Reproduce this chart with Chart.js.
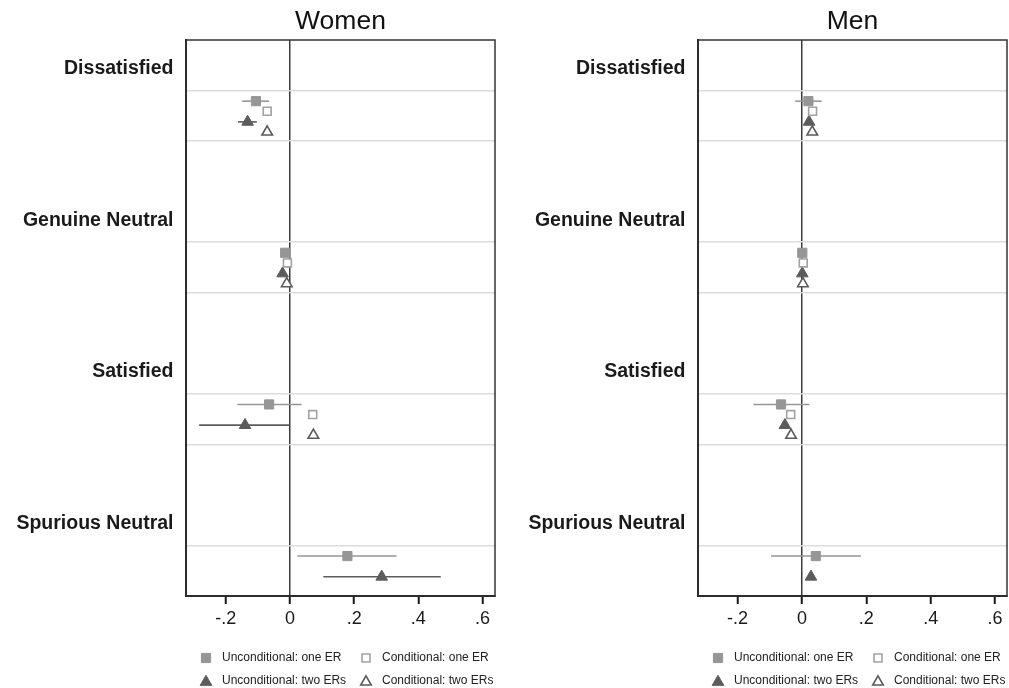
<!DOCTYPE html>
<html>
<head>
<meta charset="utf-8">
<title>Women / Men</title>
<script src="https://cdn.jsdelivr.net/npm/chart.js@4.4.1/dist/chart.umd.min.js"></script>
<style>
  body { margin: 0; background: #fff; overflow: hidden; }
  .panel { position: absolute; top: 0; line-height: 0; }
  .panel canvas { display: block; }
  #womenBox { left: 0; }
  #menBox { left: 505px; }
</style>
</head>
<body>
<div class="panel" id="womenBox"><canvas id="women" width="505" height="688"></canvas></div>
<div class="panel" id="menBox"><canvas id="men" width="504" height="688"></canvas></div>
<script>
// categories and legend entries
const categories = ['Dissatisfied', 'Genuine Neutral', 'Satisfied', 'Spurious Neutral'];
const seriesNames = ['Unconditional: one ER', 'Conditional: one ER', 'Unconditional: two ERs', 'Conditional: two ERs'];
const xTickValues = [-0.2, 0, 0.2, 0.4, 0.6];
const xTickLabels = ['-.2', '0', '.2', '.4', '.6'];

// Women: point estimates (one per category) and 95% CI where drawn
const womenUncondOne = [-0.106, -0.015, -0.065, 0.179];
const womenUncondOneLo = [-0.149, null, -0.164, 0.023];
const womenUncondOneHi = [-0.065, null, 0.036, 0.332];
const womenCondOne = [-0.071, -0.008, 0.071, null];
const womenUncondTwo = [-0.132, -0.023, -0.140, 0.286];
const womenUncondTwoLo = [-0.162, null, -0.283, 0.104];
const womenUncondTwoHi = [-0.103, null, -0.001, 0.470];
const womenCondTwo = [-0.071, -0.010, 0.073, null];

// Men
const menUncondOne = [0.020, 0.001, -0.065, 0.043];
const menUncondOneLo = [-0.021, null, -0.151, -0.096];
const menUncondOneHi = [0.061, null, 0.023, 0.183];
const menCondOne = [0.033, 0.004, -0.035, null];
const menUncondTwo = [0.022, 0.001, -0.053, 0.028];
const menCondTwo = [0.032, 0.003, -0.034, null];

Chart.defaults.font.family = '"Liberation Sans", Arial, Helvetica, sans-serif';

// look of each series (same order as seriesNames)
const styles = [
  { pointStyle: 'rect', radius: 6.5, fill: '#969696', stroke: '#969696', bw: 1 },
  { pointStyle: 'rect', radius: 5.6, fill: '#ffffff', stroke: '#a2a2a2', bw: 1.6 },
  { pointStyle: 'triangle', radius: 6.7, fill: '#5c5c5c', stroke: '#5c5c5c', bw: 1 },
  { pointStyle: 'triangle', radius: 6.1, fill: '#ffffff', stroke: '#5a5a5a', bw: 1.6 }
];
// vertical slot of each series inside a category block
const offsets = [0.21, 0.41, 0.62, 0.82];

// y ticks: heading row at 3i+0.5, light grid lines at 3i+1 and 3i+2
const yTicks = [];
categories.forEach((c, i) => { yTicks.push(3 * i + 0.5, 3 * i + 1, 3 * i + 2); });

function buildDatasets(values, lows, highs) {
  const sets = [];
  values.forEach((vals, s) => {
    const st = styles[s];
    vals.forEach((v, i) => {
      if (lows[s] && lows[s][i] != null) {
        const y = 3 * i + 1 + offsets[s];
        sets.push({
          data: [{ x: lows[s][i], y: y }, { x: highs[s][i], y: y }],
          showLine: true, pointRadius: 0, borderColor: st.stroke, borderWidth: 1.6, order: 2
        });
      }
    });
    const pts = [];
    vals.forEach((v, i) => { if (v != null) pts.push({ x: v, y: 3 * i + 1 + offsets[s] }); });
    sets.push({
      label: seriesNames[s], data: pts, order: 1,
      pointStyle: st.pointStyle, pointRadius: st.radius,
      backgroundColor: st.fill, borderColor: st.stroke, borderWidth: st.bw
    });
  });
  return sets;
}

// frame, panel title and the 2x2 legend under the axis
const panelDecor = {
  id: 'panelDecor',
  afterDraw(chart, args, opts) {
    const ctx = chart.ctx;
    const a = chart.chartArea;
    ctx.save();
    ctx.strokeStyle = '#333';
    ctx.lineWidth = 1.5;
    ctx.strokeRect(a.left, a.top, a.right - a.left, a.bottom - a.top);

    ctx.fillStyle = '#111';
    ctx.font = '26.5px "Liberation Sans", Arial, sans-serif';
    ctx.textAlign = 'center';
    ctx.textBaseline = 'alphabetic';
    ctx.fillText(opts.title, (a.left + a.right) / 2, 29);

    const cols = [20, 180];
    const rows = [62, 86];
    ctx.font = '12px "Liberation Sans", Arial, sans-serif';
    ctx.textAlign = 'left';
    ctx.textBaseline = 'middle';
    styles.forEach((st, s) => {
      const x = a.left + cols[s % 2];
      const y = a.bottom + rows[Math.floor(s / 2)];
      ctx.fillStyle = st.fill;
      ctx.strokeStyle = st.stroke;
      ctx.lineWidth = st.bw;
      Chart.helpers.drawPoint(ctx, { pointStyle: st.pointStyle, radius: st.radius, rotation: 0, borderWidth: st.bw }, x, y);
      ctx.fillStyle = '#222';
      ctx.fillText(seriesNames[s], x + 16, y - (s >= 2 ? 1.5 : 0));
    });
    ctx.restore();
  }
};

function makePanel(id, title, yWidth, xMin, xMax, padRight, datasets) {
  return new Chart(document.getElementById(id), {
    type: 'scatter',
    data: { datasets: datasets },
    plugins: [panelDecor],
    options: {
      responsive: false,
      animation: false,
      events: [],
      layout: { autoPadding: false, padding: { top: 40, right: padRight, bottom: 52, left: 0 } },
      plugins: {
        legend: { display: false },
        tooltip: { enabled: false },
        panelDecor: { title: title }
      },
      scales: {
        x: {
          type: 'linear', min: xMin, max: xMax,
          afterBuildTicks: s => { s.ticks = xTickValues.map(v => ({ value: v })); },
          afterFit: s => { s.height = 40; s.paddingLeft = 0; s.paddingRight = 0; },
          ticks: {
            autoSkip: false, maxRotation: 0, padding: 4, color: '#1a1a1a',
            font: { size: 18 },
            callback: (v, i) => xTickLabels[i]
          },
          grid: {
            color: c => (c.tick && c.tick.value === 0) ? '#3a3a3a' : 'rgba(0,0,0,0)',
            lineWidth: 1.5, tickColor: '#1a1a1a', tickWidth: 2, tickLength: 8
          },
          border: { display: true, color: '#1a1a1a', width: 2 }
        },
        y: {
          type: 'linear', reverse: true, min: 0, max: 11,
          afterBuildTicks: s => { s.ticks = yTicks.map(v => ({ value: v })); },
          afterFit: s => { s.width = yWidth; s.paddingTop = 0; s.paddingBottom = 0; },
          ticks: {
            autoSkip: false, padding: 12.5, labelOffset: 3.5, color: '#1a1a1a',
            font: { size: 19.5, weight: 'bold' },
            callback: v => (v % 3 === 0.5) ? categories[(v - 0.5) / 3] : ''
          },
          grid: {
            drawTicks: false, lineWidth: 1.5,
            color: c => (c.tick && Number.isInteger(c.tick.value)) ? '#dcdcdc' : 'rgba(0,0,0,0)'
          },
          border: { display: true, color: '#1a1a1a', width: 2 }
        }
      }
    }
  });
}

makePanel('women', 'Women', 186, -0.324, 0.639, 10, buildDatasets(
  [womenUncondOne, womenCondOne, womenUncondTwo, womenCondTwo],
  [womenUncondOneLo, null, womenUncondTwoLo, null],
  [womenUncondOneHi, null, womenUncondTwoHi, null]
));

makePanel('men', 'Men', 193, -0.323, 0.637, 2, buildDatasets(
  [menUncondOne, menCondOne, menUncondTwo, menCondTwo],
  [menUncondOneLo, null, null, null],
  [menUncondOneHi, null, null, null]
));
</script>
</body>
</html>
